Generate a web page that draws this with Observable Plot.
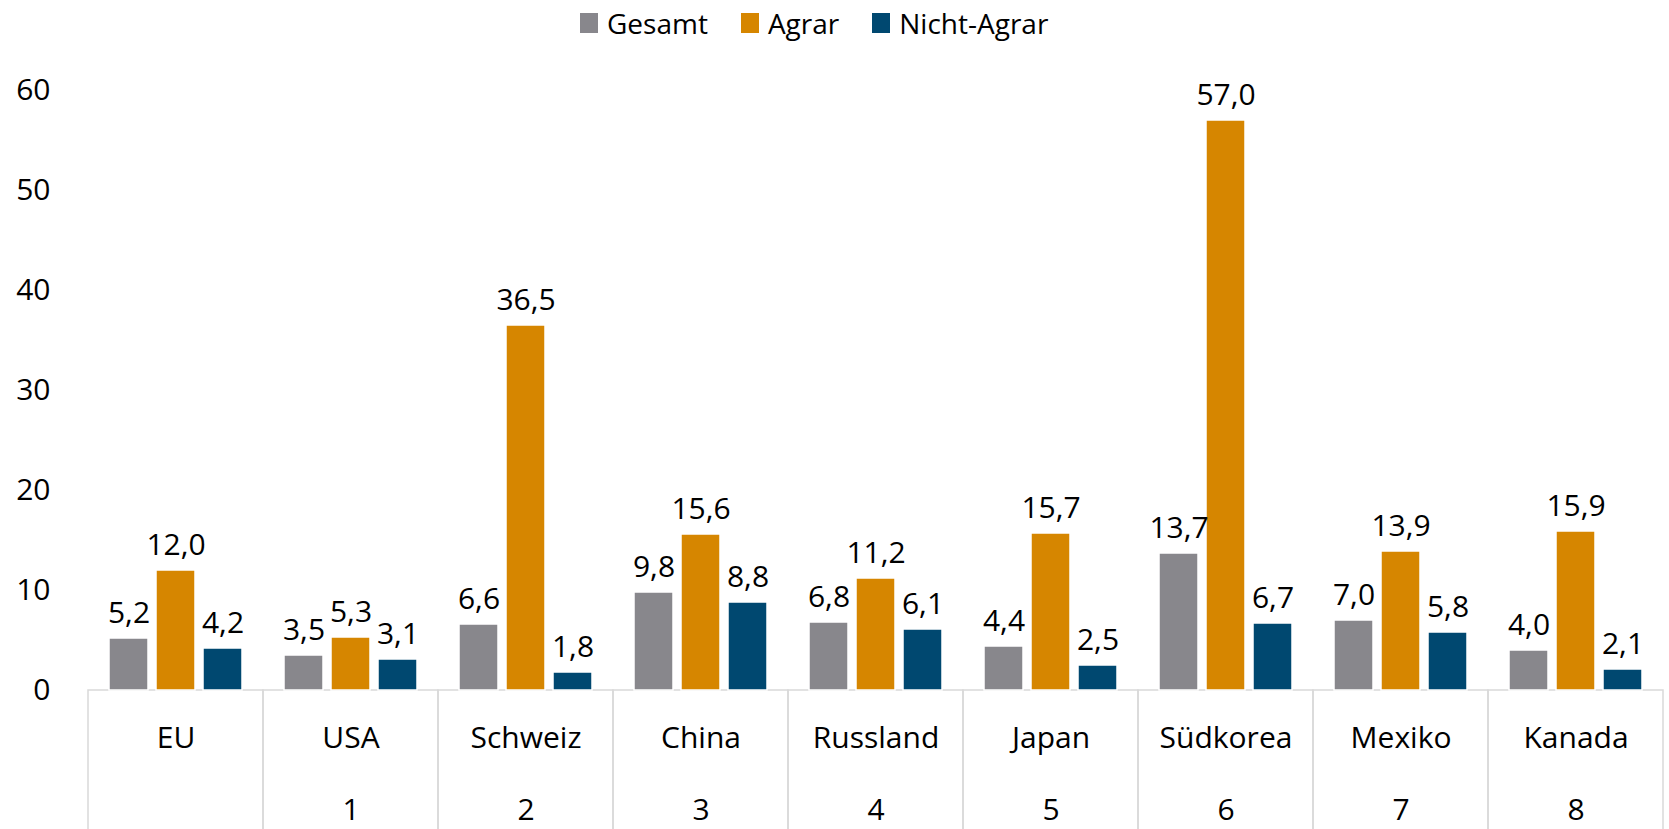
<!DOCTYPE html>
<html><head><meta charset="utf-8">
<script src="https://cdn.jsdelivr.net/npm/d3@7"></script>
<script src="https://cdn.jsdelivr.net/npm/@observablehq/plot@0.6"></script>
<style>
body{margin:0;background:#fff;font-family:"Open Sans",sans-serif;color:#000;}
#legend{height:40px;display:flex;align-items:center;padding-left:580px;box-sizing:border-box;padding-top:6px;font-size:28px;}
.sw{width:18px;height:20px;margin-right:9px;display:inline-block;}
.lab{margin-right:33px;line-height:1;}
#chart svg{display:block;}
</style></head><body>
<div id="legend"></div>
<div id="chart"></div>
<script>
const countries = ["EU","USA","Schweiz","China","Russland","Japan","Südkorea","Mexiko","Kanada"];
const ranks = ["","1","2","3","4","5","6","7","8"];
const seriesNames = ["Gesamt","Agrar","Nicht-Agrar"];
const gesamt = [5.2,3.5,6.6,9.8,6.8,4.4,13.7,7.0,4.0];
const agrar = [12.0,5.3,36.5,15.6,11.2,15.7,57.0,13.9,15.9];
const nichtAgrar = [4.2,3.1,1.8,8.8,6.1,2.5,6.7,5.8,2.1];
const colors = ["#88878c","#d68600","#004870"];
const yTicks = [0,10,20,30,40,50,60];

const seriesValues = [gesamt, agrar, nichtAgrar];
const rows = [];
countries.forEach((c, i) => seriesNames.forEach((s, j) => rows.push({country: c, series: s, value: seriesValues[j][i]})));
const fmt = v => v.toFixed(1).replace(".", ",");

const legend = document.getElementById("legend");
seriesNames.forEach((s, j) => {
  const sw = document.createElement("span"); sw.className = "sw"; sw.style.background = colors[j];
  const lb = document.createElement("span"); lb.className = "lab"; lb.textContent = s;
  legend.append(sw, lb);
});

const FS = 30;
const chart = Plot.plot({
  width: 1669, height: 789,
  marginTop: 50, marginBottom: 139, marginLeft: 84, marginRight: 2,
  style: {fontFamily: "'Open Sans', sans-serif", fontSize: FS + "px", color: "#000", background: "#fff", overflow: "hidden"},
  fx: {domain: countries, padding: 0, label: null},
  x: {domain: seriesNames, paddingInner: 0.1667, paddingOuter: 0.411, axis: null},
  y: {domain: [0, 60], ticks: yTicks, label: null},
  color: {domain: seriesNames, range: colors},
  marks: [
    Plot.axisY({ticks: yTicks, tickSize: 0, tickPadding: 38, label: null, fontSize: FS}),
    Plot.rect(countries, {fx: d => d, y1: () => 0, y2: () => 0, insetBottom: -170, stroke: "#d9d9d9", strokeWidth: 1.5, fill: "none"}),
    Plot.barY(rows, {fx: "country", x: "series", y: "value", fill: "series", stroke: "white", strokeWidth: 1.5}),
    Plot.text(rows, {fx: "country", x: "series", y: "value", text: d => fmt(d.value), dy: -25, lineAnchor: "middle", fontSize: FS}),
    Plot.axisFx({anchor: "bottom", tickSize: 0, tickPadding: 36, label: null, fontSize: FS}),
    Plot.axisFx({anchor: "bottom", tickSize: 0, tickPadding: 108, label: null, fontSize: FS, tickFormat: d => ranks[countries.indexOf(d)]})
  ]
});
document.getElementById("chart").append(chart);
</script>
</body></html>
